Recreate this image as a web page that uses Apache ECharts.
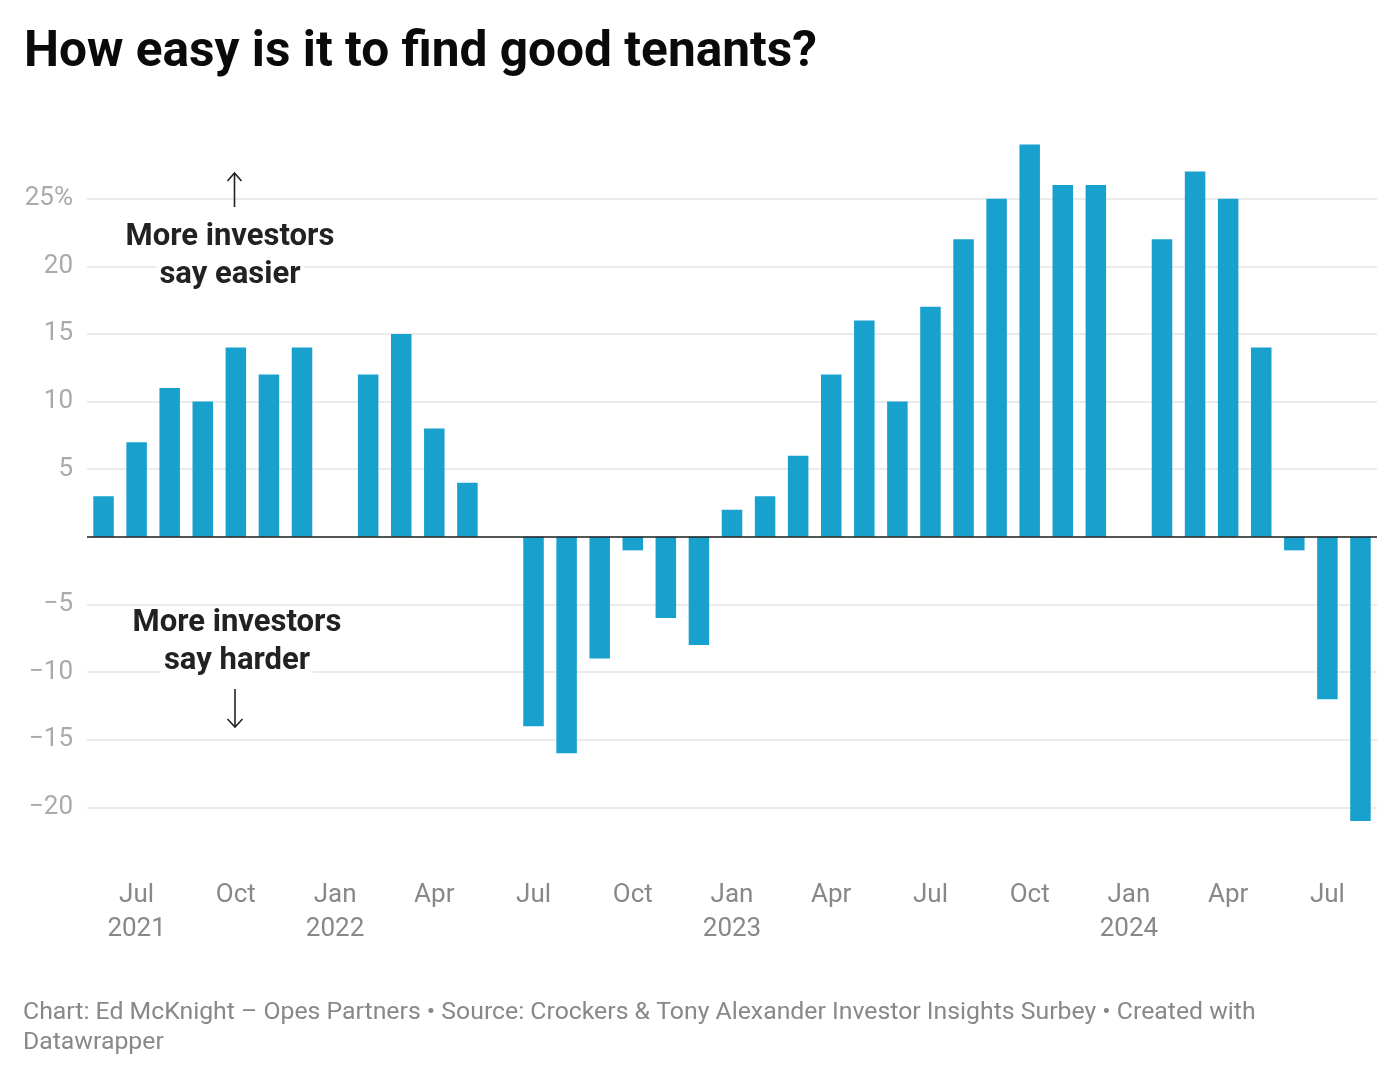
<!DOCTYPE html>
<html><head><meta charset="utf-8">
<script src="https://cdn.jsdelivr.net/npm/echarts@6/dist/echarts.min.js"></script>
<style>html,body{margin:0;padding:0;background:#fff}#c{width:1400px;height:1077px}</style>
</head><body><div id="c"></div>
<script>
const months = ['Jun 2021','Jul 2021','Aug 2021','Sep 2021','Oct 2021','Nov 2021','Dec 2021',
  'Jan 2022','Feb 2022','Mar 2022','Apr 2022','May 2022','Jun 2022','Jul 2022','Aug 2022','Sep 2022','Oct 2022','Nov 2022','Dec 2022',
  'Jan 2023','Feb 2023','Mar 2023','Apr 2023','May 2023','Jun 2023','Jul 2023','Aug 2023','Sep 2023','Oct 2023','Nov 2023','Dec 2023',
  'Jan 2024','Feb 2024','Mar 2024','Apr 2024','May 2024','Jun 2024','Jul 2024','Aug 2024'];
const values = [3,7,11,10,14,12,14,
  null,12,15,8,4,null,-14,-16,-9,-1,-6,-8,
  2,3,6,12,16,10,17,22,25,29,26,26,
  null,22,27,25,14,-1,-12,-21];
const tickLabels = ['','Jul\n2021','','','Oct','','',
  'Jan\n2022','','','Apr','','','Jul','','','Oct','','',
  'Jan\n2023','','','Apr','','','Jul','','','Oct','','',
  'Jan\n2024','','','Apr','','','Jul',''];
const yTicks = {25:'25%',20:'20',15:'15',10:'10',5:'5',0:'','-5':'\u22125','-10':'\u221210','-15':'\u221215','-20':'\u221220'};
const titleText = 'How easy is it to find good tenants?';
const footerText = 'Chart: Ed McKnight \u2013 Opes Partners \u2022 Source: Crockers & Tony Alexander Investor Insights Surbey \u2022 Created with\nDatawrapper';
const annoUp = ['More investors','say easier'];
const annoDown = ['More investors','say harder'];

const chart = echarts.init(document.getElementById('c'));
const F = 'Roboto, sans-serif';
function annoText(txt, x, y) {
  return {type:'text', x:x, y:y, z:100, style:{text:txt, font:'bold 31px Roboto, sans-serif', fill:'#222',
    align:'center', verticalAlign:'middle', backgroundColor:'#fff', padding:[0,3]}};
}
chart.setOption({
  backgroundColor:'#fff',
  animation:false,
  textStyle:{fontFamily:F},
  title:{text:titleText, left:19, top:24, textStyle:{fontFamily:F, fontSize:49.6, fontWeight:'bold', color:'#0a0a0a'}},
  grid:{left:87, right:23, top:131, bottom:202, containLabel:false},
  xAxis:{type:'category', data:months, axisLine:{show:false, onZero:false}, axisTick:{show:false},
    axisLabel:{interval:0, formatter:(v,i)=>tickLabels[i], color:'#888', fontSize:26, lineHeight:34, margin:3, fontFamily:F}},
  yAxis:{type:'value', min:-25, max:30, interval:5,
    axisLabel:{showMinLabel:false, showMaxLabel:false, formatter:v=>yTicks[v]!==undefined?yTicks[v]:'', color:'#aaa', fontSize:26, margin:14, fontFamily:F},
    splitLine:{showMinLine:false, showMaxLine:false, lineStyle:{color:'#e5e5e5', width:1.5}},
    axisLine:{show:false}, axisTick:{show:false}},
  series:[{type:'bar', data:values, barWidth:'62%', itemStyle:{color:'#18a1cd'},
    markLine:{silent:true, symbol:['none','none'], label:{show:false}, data:[{yAxis:0}],
      lineStyle:{color:'#222', width:1.5, type:'solid'}}}],
  graphic:[
    annoText(annoUp[0], 230, 237), annoText(annoUp[1], 230, 275),
    annoText(annoDown[0], 237, 623), annoText(annoDown[1], 237, 661),
    {type:'line', z:100, shape:{x1:234.5,y1:173,x2:234.5,y2:207}, style:{stroke:'#222', lineWidth:1.6}},
    {type:'polyline', z:100, shape:{points:[[227.5,181],[234.5,173],[241.5,181]]}, style:{stroke:'#222', lineWidth:1.6, fill:null}},
    {type:'line', z:100, shape:{x1:235,y1:689,x2:235,y2:727}, style:{stroke:'#222', lineWidth:1.6}},
    {type:'polyline', z:100, shape:{points:[[227.5,719],[235,727],[242.5,719]]}, style:{stroke:'#222', lineWidth:1.6, fill:null}},
    {type:'text', left:23, top:998, style:{text:footerText, font:'24.8px Roboto, sans-serif', fill:'#888', lineHeight:30}}
  ]
});
</script></body></html>
